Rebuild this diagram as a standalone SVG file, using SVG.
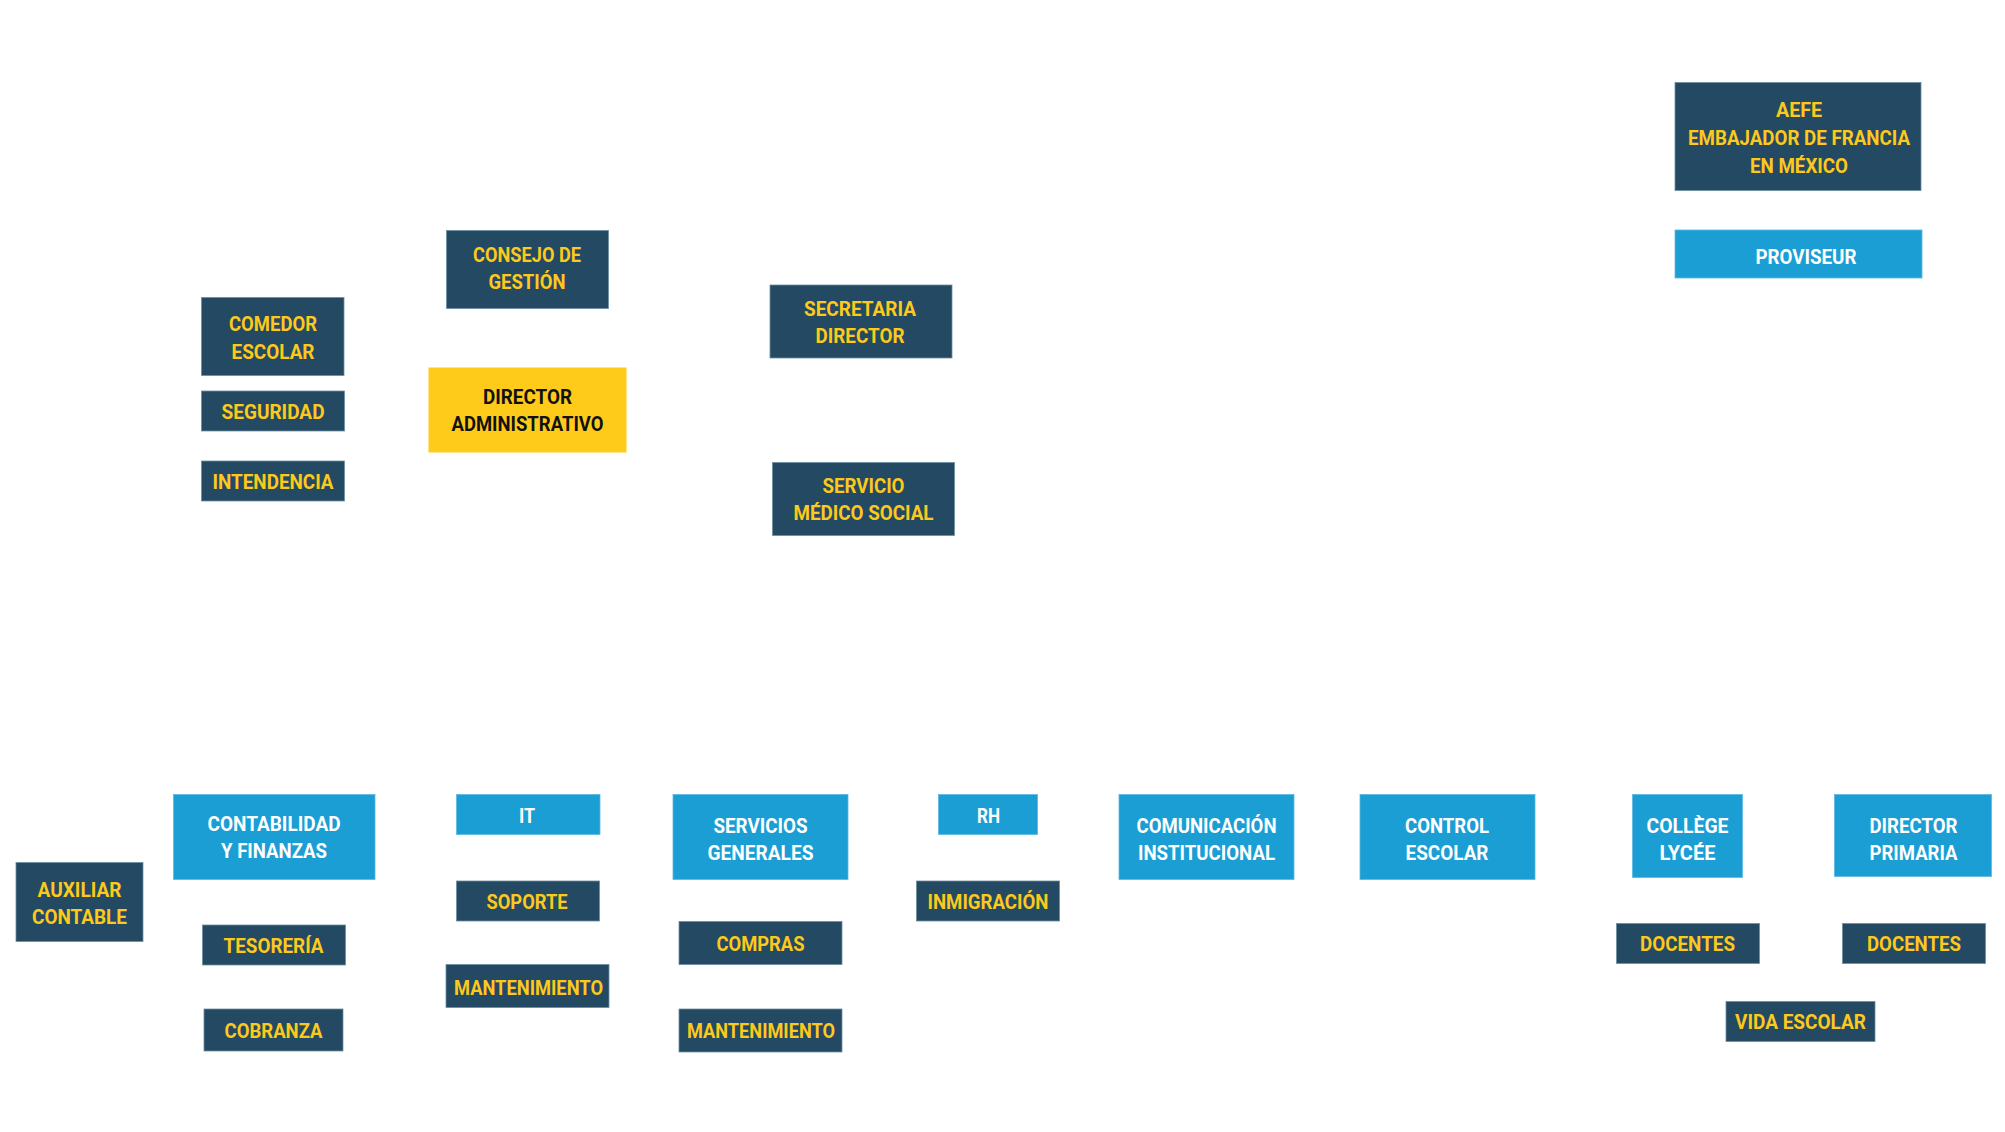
<svg xmlns="http://www.w3.org/2000/svg" width="2005" height="1132" viewBox="0 0 2005 1132">
<style>
.dark{fill:#234a62;stroke:#6d8ea1;stroke-width:0.8}
.blue{fill:#1a9ed4;stroke:#5cb8e2;stroke-width:0.8}
.yel{fill:#fecb1b}
text{font-family:Roboto,"Liberation Sans",Arial,sans-serif;font-weight:700;font-size:20px;text-anchor:middle}
.ty{fill:#fdc91b}
.tw{fill:#ffffff}
.tb{fill:#111111}
</style>
<rect width="2005" height="1132" fill="#ffffff"/>
<g id="connectors"></g>
<g id="aefe"><rect class="dark" x="1675" y="82.5" width="246" height="108"/>
<text class="ty" x="1799" y="117" textLength="46" lengthAdjust="spacingAndGlyphs">AEFE</text>
<text class="ty" x="1799" y="145" textLength="222" lengthAdjust="spacingAndGlyphs">EMBAJADOR DE FRANCIA</text>
<text class="ty" x="1799" y="173" textLength="98" lengthAdjust="spacingAndGlyphs">EN MÉXICO</text></g>
<g id="proviseur"><rect class="blue" x="1675" y="230" width="247" height="48"/>
<text class="tw" x="1806" y="264" textLength="101" lengthAdjust="spacingAndGlyphs">PROVISEUR</text></g>
<g id="consejo"><rect class="dark" x="446.5" y="230.5" width="162" height="78"/>
<text class="ty" x="527" y="261.5" textLength="108" lengthAdjust="spacingAndGlyphs">CONSEJO DE</text>
<text class="ty" x="527" y="288.5" textLength="77" lengthAdjust="spacingAndGlyphs">GESTIÓN</text></g>
<g id="comedor"><rect class="dark" x="201.5" y="297.5" width="142.5" height="78"/>
<text class="ty" x="273" y="331" textLength="88" lengthAdjust="spacingAndGlyphs">COMEDOR</text>
<text class="ty" x="273" y="358.5" textLength="83" lengthAdjust="spacingAndGlyphs">ESCOLAR</text></g>
<g id="seguridad"><rect class="dark" x="201.5" y="391" width="143" height="40"/>
<text class="ty" x="273" y="418.5" textLength="103" lengthAdjust="spacingAndGlyphs">SEGURIDAD</text></g>
<g id="intendencia"><rect class="dark" x="201.5" y="461" width="143" height="40"/>
<text class="ty" x="273" y="489" textLength="121" lengthAdjust="spacingAndGlyphs">INTENDENCIA</text></g>
<g id="director-admin"><rect class="yel" x="428.5" y="367.5" width="198" height="85"/>
<text class="tb" x="527.5" y="403.5" textLength="89" lengthAdjust="spacingAndGlyphs">DIRECTOR</text>
<text class="tb" x="527.5" y="430.5" textLength="152" lengthAdjust="spacingAndGlyphs">ADMINISTRATIVO</text></g>
<g id="secretaria"><rect class="dark" x="770" y="285" width="182" height="73"/>
<text class="ty" x="860" y="316" textLength="112" lengthAdjust="spacingAndGlyphs">SECRETARIA</text>
<text class="ty" x="860" y="342.5" textLength="89" lengthAdjust="spacingAndGlyphs">DIRECTOR</text></g>
<g id="servicio-medico"><rect class="dark" x="772.5" y="462.5" width="182" height="73"/>
<text class="ty" x="863.5" y="493" textLength="82" lengthAdjust="spacingAndGlyphs">SERVICIO</text>
<text class="ty" x="863.5" y="520" textLength="140" lengthAdjust="spacingAndGlyphs">MÉDICO SOCIAL</text></g>
<g id="contabilidad"><rect class="blue" x="173.5" y="794.5" width="201.5" height="85"/>
<text class="tw" x="274" y="830.5" textLength="133" lengthAdjust="spacingAndGlyphs">CONTABILIDAD</text>
<text class="tw" x="274" y="857.5" textLength="106" lengthAdjust="spacingAndGlyphs">Y FINANZAS</text></g>
<g id="auxiliar"><rect class="dark" x="16" y="862.5" width="127" height="79"/>
<text class="ty" x="79.5" y="896.5" textLength="84" lengthAdjust="spacingAndGlyphs">AUXILIAR</text>
<text class="ty" x="79.5" y="923.5" textLength="95" lengthAdjust="spacingAndGlyphs">CONTABLE</text></g>
<g id="tesoreria"><rect class="dark" x="202.5" y="925" width="143" height="40"/>
<text class="ty" x="273.5" y="952.5" textLength="100" lengthAdjust="spacingAndGlyphs">TESORERÍA</text></g>
<g id="cobranza"><rect class="dark" x="204" y="1009" width="139" height="42"/>
<text class="ty" x="273.5" y="1037.5" textLength="98" lengthAdjust="spacingAndGlyphs">COBRANZA</text></g>
<g id="it"><rect class="blue" x="456.5" y="794.5" width="143.5" height="40"/>
<text class="tw" x="527" y="823" textLength="16" lengthAdjust="spacingAndGlyphs">IT</text></g>
<g id="soporte"><rect class="dark" x="456.5" y="881" width="143" height="40"/>
<text class="ty" x="527" y="909" textLength="81" lengthAdjust="spacingAndGlyphs">SOPORTE</text></g>
<g id="mantenimiento-it"><rect class="dark" x="446" y="964.5" width="163" height="43"/>
<text class="ty" x="528.5" y="995" textLength="149" lengthAdjust="spacingAndGlyphs">MANTENIMIENTO</text></g>
<g id="servicios-generales"><rect class="blue" x="673" y="794.5" width="175" height="85"/>
<text class="tw" x="760.5" y="833" textLength="94" lengthAdjust="spacingAndGlyphs">SERVICIOS</text>
<text class="tw" x="760.5" y="860" textLength="106" lengthAdjust="spacingAndGlyphs">GENERALES</text></g>
<g id="compras"><rect class="dark" x="679" y="921.5" width="163" height="43"/>
<text class="ty" x="760.5" y="951" textLength="88" lengthAdjust="spacingAndGlyphs">COMPRAS</text></g>
<g id="mantenimiento-sg"><rect class="dark" x="679" y="1009" width="163" height="43"/>
<text class="ty" x="761" y="1037.5" textLength="148" lengthAdjust="spacingAndGlyphs">MANTENIMIENTO</text></g>
<g id="rh"><rect class="blue" x="938.5" y="794.5" width="99" height="40"/>
<text class="tw" x="988.5" y="823" textLength="23" lengthAdjust="spacingAndGlyphs">RH</text></g>
<g id="inmigracion"><rect class="dark" x="916.5" y="881" width="143" height="40"/>
<text class="ty" x="988" y="909" textLength="121" lengthAdjust="spacingAndGlyphs">INMIGRACIÓN</text></g>
<g id="comunicacion"><rect class="blue" x="1119" y="794.5" width="175" height="85"/>
<text class="tw" x="1206.5" y="833" textLength="140" lengthAdjust="spacingAndGlyphs">COMUNICACIÓN</text>
<text class="tw" x="1206.5" y="860" textLength="137" lengthAdjust="spacingAndGlyphs">INSTITUCIONAL</text></g>
<g id="control-escolar"><rect class="blue" x="1360" y="794.5" width="175" height="85"/>
<text class="tw" x="1447" y="833" textLength="84" lengthAdjust="spacingAndGlyphs">CONTROL</text>
<text class="tw" x="1447" y="860" textLength="83" lengthAdjust="spacingAndGlyphs">ESCOLAR</text></g>
<g id="college-lycee"><rect class="blue" x="1632.5" y="794.5" width="110" height="83"/>
<text class="tw" x="1687.5" y="833" textLength="82" lengthAdjust="spacingAndGlyphs">COLLÈGE</text>
<text class="tw" x="1687.5" y="860" textLength="56" lengthAdjust="spacingAndGlyphs">LYCÉE</text></g>
<g id="director-primaria"><rect class="blue" x="1834.5" y="794.5" width="157" height="82"/>
<text class="tw" x="1913.5" y="833" textLength="88" lengthAdjust="spacingAndGlyphs">DIRECTOR</text>
<text class="tw" x="1913.5" y="860" textLength="88" lengthAdjust="spacingAndGlyphs">PRIMARIA</text></g>
<g id="docentes-college"><rect class="dark" x="1616.5" y="923.5" width="143" height="40"/>
<text class="ty" x="1687.5" y="951" textLength="95" lengthAdjust="spacingAndGlyphs">DOCENTES</text></g>
<g id="docentes-primaria"><rect class="dark" x="1842.5" y="923.5" width="143" height="40"/>
<text class="ty" x="1914" y="951" textLength="94" lengthAdjust="spacingAndGlyphs">DOCENTES</text></g>
<g id="vida-escolar"><rect class="dark" x="1726" y="1001.5" width="149" height="40"/>
<text class="ty" x="1800.5" y="1029" textLength="131" lengthAdjust="spacingAndGlyphs">VIDA ESCOLAR</text></g>
</svg>
